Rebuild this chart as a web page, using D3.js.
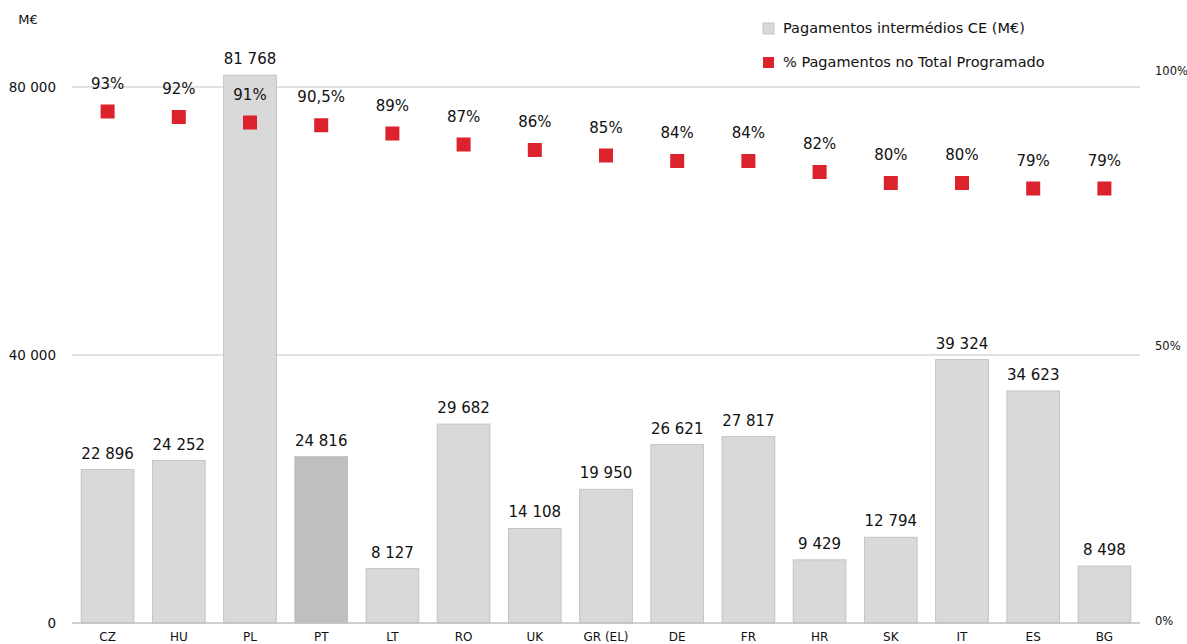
<!DOCTYPE html>
<html>
<head>
<meta charset="utf-8">
<script src="https://cdn.jsdelivr.net/npm/d3@7"></script>
<style>
  body { margin: 0; background: #fff; }
  svg { font-family: "DejaVu Sans", sans-serif; }
</style>
</head>
<body>
<svg class="chart"></svg>
<script>
// values
var countries = ['CZ', 'HU', 'PL', 'PT', 'LT', 'RO', 'UK', 'GR (EL)', 'DE', 'FR', 'HR', 'SK', 'IT', 'ES', 'BG'];
var payments = [22896, 24252, 81768, 24816, 8127, 29682, 14108, 19950, 26621, 27817, 9429, 12794, 39324, 34623, 8498];
var pctPaid = [93, 92, 91, 90.5, 89, 87, 86, 85, 84, 84, 82, 80, 80, 79, 79];
var leftTicks = [0, 40000, 80000];
var rightTicks = [0, 50, 100];
var highlight = 'PT';

var W = 1187, H = 644;
var margin = {top: 71, right: 47, bottom: 21, left: 72},
	width = W - margin.left - margin.right,
	height = H - margin.top - margin.bottom;

var svg = d3.select('.chart').attr('width', W).attr('height', H);
var g = svg.append('g').attr('transform', 'translate(' + margin.left + ',' + margin.top + ')');

var x = d3.scaleBand().domain(countries).range([0, width]).paddingInner(0.26).paddingOuter(0.13);
var y = d3.scaleLinear().domain([0, 80000]).range([height, height - 536]);
var y2 = d3.scaleLinear().domain([0, 100]).range([height, height - 550]);

var fmt = function(v) { return d3.format(',')(v).replace(/,/g, ' '); };

// gridlines
g.selectAll('.grid').data(leftTicks.slice(1)).enter().append('line')
	.attr('x1', 0).attr('x2', width)
	.attr('y1', function(d) { return y(d); }).attr('y2', function(d) { return y(d); })
	.attr('stroke', '#d9d9d9').attr('stroke-width', 1.5);

// left axis labels
g.selectAll('.ltick').data(leftTicks).enter().append('text')
	.attr('x', -16).attr('y', function(d) { return y(d); }).attr('dy', '0.35em')
	.attr('text-anchor', 'end').attr('font-size', 13.5).attr('fill', '#111')
	.text(fmt);
svg.append('text').attr('x', 28).attr('y', 24).attr('font-size', 13).attr('text-anchor', 'middle').attr('fill', '#111').text('M€');

// right axis labels
g.selectAll('.rtick').data(rightTicks).enter().append('text')
	.attr('x', width + 15).attr('y', function(d) { return y2(d) - 2; }).attr('dy', '0.35em')
	.attr('font-size', 11.5).attr('fill', '#111')
	.text(function(d) { return d + '%'; });

// bars
var data = countries.map(function(c, i) { return {c: c, v: payments[i], p: pctPaid[i]}; });
g.selectAll('.bar').data(data).enter().append('rect')
	.attr('x', function(d) { return x(d.c); })
	.attr('y', function(d) { return y(d.v); })
	.attr('width', x.bandwidth())
	.attr('height', function(d) { return height - y(d.v); })
	.attr('fill', function(d) { return d.c === highlight ? '#bfbfbf' : '#d9d9d9'; })
	.attr('stroke', function(d) { return d.c === highlight ? '#bfbfbf' : '#c4c4c4'; })
	.attr('stroke-width', 1);

g.selectAll('.vlab').data(data).enter().append('text')
	.attr('x', function(d) { return x(d.c) + x.bandwidth() / 2; })
	.attr('y', function(d) { return y(d.v) - 11; })
	.attr('text-anchor', 'middle').attr('font-size', 15).attr('fill', '#111')
	.text(function(d) { return fmt(d.v); });

// baseline
g.append('line').attr('x1', 0).attr('x2', width).attr('y1', height).attr('y2', height)
	.attr('stroke', '#bfbfbf').attr('stroke-width', 1.5);

// x axis labels
g.selectAll('.xlab').data(countries).enter().append('text')
	.attr('x', function(d) { return x(d) + x.bandwidth() / 2; })
	.attr('y', height + 18).attr('text-anchor', 'middle').attr('font-size', 12).attr('fill', '#111')
	.text(function(d) { return d; });

// percentage markers
var ms = 14;
g.selectAll('.mark').data(data).enter().append('rect')
	.attr('x', function(d) { return x(d.c) + x.bandwidth() / 2 - ms / 2; })
	.attr('y', function(d) { return y2(d.p) - ms / 2; })
	.attr('width', ms).attr('height', ms)
	.attr('fill', '#dc222c');

g.selectAll('.plab').data(data).enter().append('text')
	.attr('x', function(d) { return x(d.c) + x.bandwidth() / 2; })
	.attr('y', function(d) { return y2(d.p) - 23; })
	.attr('text-anchor', 'middle').attr('font-size', 15).attr('fill', '#111')
	.text(function(d) { return String(d.p).replace('.', ',') + '%'; });

// legend
var legend = [{label: 'Pagamentos intermédios CE (M€)', fill: '#d9d9d9', stroke: '#c4c4c4'},
	{label: '% Pagamentos no Total Programado', fill: '#dc222c', stroke: 'none'}];
var lg = svg.selectAll('.legend').data(legend).enter().append('g')
	.attr('transform', function(d, i) { return 'translate(763,' + (28 + i * 34) + ')'; });
lg.append('rect').attr('x', 0).attr('y', -5).attr('width', 11).attr('height', 11)
	.attr('fill', function(d) { return d.fill; }).attr('stroke', function(d) { return d.stroke; });
lg.append('text').attr('x', 20).attr('y', 0).attr('dy', '0.35em').attr('font-size', 14.5).attr('fill', '#111')
	.text(function(d) { return d.label; });
</script>
</body>
</html>
